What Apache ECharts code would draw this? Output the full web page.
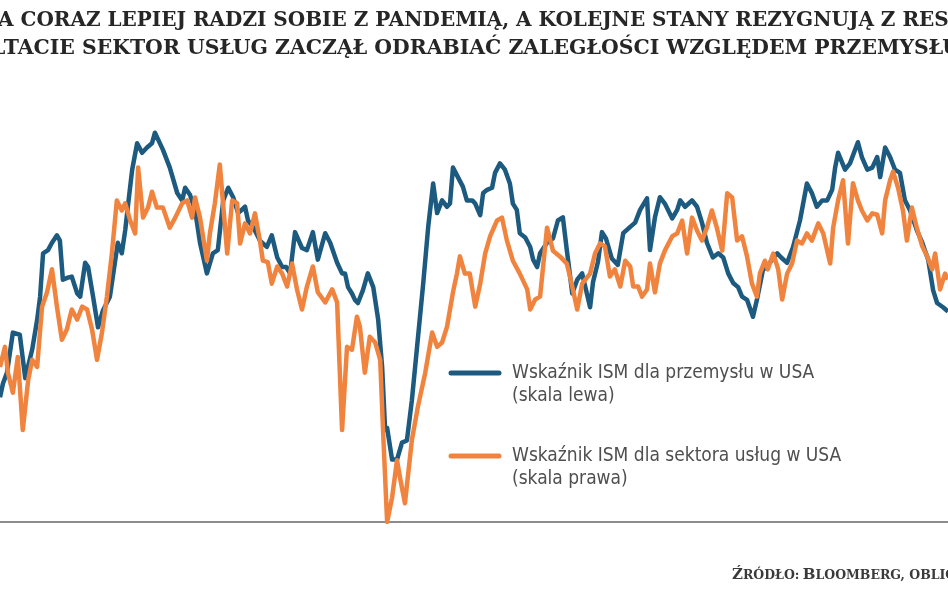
<!DOCTYPE html>
<html>
<head>
<meta charset="utf-8">
<script src="https://cdn.jsdelivr.net/npm/echarts@6/dist/echarts.min.js"></script>
<style>
html,body{margin:0;padding:0;background:#fff;}
#chart{width:948px;height:593px;}
</style>
</head>
<body>
<div id="chart"></div>
<script>
// ISM manufacturing (left scale) – decimal year / value
var manufYears = [2001.00,2001.06,2001.14,2001.26,2001.40,2001.51,2001.65,2001.75,2001.81,2001.87,2001.97,2002.05,2002.15,2002.21,2002.27,2002.37,2002.45,2002.56,2002.62,2002.72,2002.78,2002.88,2002.98,2003.08,2003.22,2003.32,2003.38,2003.46,2003.53,2003.59,2003.67,2003.77,2003.87,2003.97,2004.07,2004.13,2004.29,2004.43,2004.58,2004.68,2004.74,2004.84,2004.94,2005.04,2005.18,2005.30,2005.40,2005.51,2005.61,2005.71,2005.81,2005.95,2006.01,2006.11,2006.25,2006.39,2006.49,2006.60,2006.70,2006.78,2006.86,2006.96,2007.10,2007.20,2007.32,2007.42,2007.57,2007.67,2007.81,2007.91,2007.97,2008.03,2008.11,2008.17,2008.23,2008.33,2008.43,2008.54,2008.64,2008.72,2008.78,2008.82,2008.92,2009.02,2009.12,2009.22,2009.32,2009.42,2009.55,2009.65,2009.75,2009.83,2009.93,2010.03,2010.09,2010.15,2010.25,2010.35,2010.43,2010.54,2010.60,2010.70,2010.76,2010.84,2010.94,2011.00,2011.10,2011.20,2011.30,2011.36,2011.44,2011.50,2011.61,2011.71,2011.77,2011.85,2011.91,2012.05,2012.17,2012.27,2012.37,2012.45,2012.56,2012.66,2012.76,2012.92,2012.98,2013.08,2013.16,2013.24,2013.36,2013.48,2013.59,2013.73,2013.83,2013.93,2014.07,2014.13,2014.23,2014.33,2014.43,2014.58,2014.68,2014.74,2014.84,2014.98,2015.08,2015.18,2015.28,2015.40,2015.51,2015.61,2015.71,2015.81,2015.91,2015.99,2016.09,2016.21,2016.29,2016.41,2016.55,2016.70,2016.78,2016.90,2017.02,2017.16,2017.30,2017.40,2017.50,2017.61,2017.71,2017.81,2017.87,2017.93,2018.07,2018.17,2018.33,2018.41,2018.52,2018.62,2018.72,2018.78,2018.88,2018.98,2019.08,2019.18,2019.28,2019.38,2019.52,2019.63,2019.75,2019.85,2019.93,2020.05,2020.15];
var manufValues = [38.8,40.1,41.1,44.9,44.7,40.6,43.3,46.1,48.3,52.4,52.7,53.4,54.1,53.6,49.9,50.1,50.2,48.6,48.3,51.5,51.1,48.3,45.4,47.0,48.3,51.5,53.4,52.4,54.6,57.1,60.3,62.8,61.9,62.4,62.8,63.8,62.2,60.5,58.1,57.4,58.6,57.9,56.5,53.4,50.5,52.4,52.7,57.4,58.6,57.7,56.2,56.8,55.5,54.9,53.6,53.0,54.1,52.0,51.1,51.1,50.5,54.4,52.9,52.7,54.4,51.8,54.3,53.4,51.5,50.5,50.5,49.2,48.6,48.0,47.7,48.9,50.5,49.2,46.1,41.6,35.7,35.9,32.9,32.9,34.5,34.7,38.5,43.3,49.6,54.9,59.0,56.2,57.4,56.8,57.1,60.5,59.6,58.7,57.4,57.4,57.1,56.0,58.1,58.4,58.6,60.0,60.9,60.3,59.0,57.1,56.5,54.3,53.9,53.0,51.8,51.1,52.4,53.4,53.8,55.5,55.8,52.7,48.6,49.9,50.5,47.3,49.7,51.6,54.4,53.8,51.9,51.3,54.3,54.9,55.3,56.5,57.6,52.7,55.8,57.7,57.1,55.7,56.5,57.4,56.8,57.4,56.8,55.3,53.4,52.0,52.4,52.0,50.5,49.6,49.2,48.3,48.0,46.4,48.0,50.8,51.5,52.4,52.0,51.5,53.0,55.5,59.0,58.1,56.8,57.4,57.4,58.4,60.5,61.9,60.3,60.9,62.9,61.5,60.3,60.5,61.5,59.6,62.4,61.5,60.3,60.0,57.4,56.5,54.6,53.4,51.8,48.9,47.7,47.3,46.9];

// ISM services (right scale) – decimal year / value
var servYears = [2001.00,2001.10,2001.16,2001.26,2001.36,2001.46,2001.57,2001.65,2001.75,2001.85,2001.95,2002.05,2002.15,2002.25,2002.35,2002.45,2002.56,2002.66,2002.76,2002.86,2002.96,2003.06,2003.16,2003.26,2003.36,2003.46,2003.53,2003.63,2003.73,2003.79,2003.89,2003.99,2004.07,2004.17,2004.29,2004.43,2004.54,2004.68,2004.78,2004.88,2004.94,2005.04,2005.18,2005.24,2005.34,2005.44,2005.59,2005.69,2005.79,2005.85,2005.95,2006.05,2006.15,2006.25,2006.31,2006.41,2006.49,2006.60,2006.70,2006.80,2006.90,2007.00,2007.10,2007.20,2007.32,2007.42,2007.57,2007.71,2007.81,2007.91,2008.01,2008.11,2008.21,2008.27,2008.37,2008.47,2008.58,2008.68,2008.74,2008.82,2008.92,2009.02,2009.08,2009.18,2009.32,2009.44,2009.59,2009.73,2009.83,2009.93,2010.03,2010.15,2010.23,2010.29,2010.39,2010.49,2010.60,2010.70,2010.80,2010.90,2011.04,2011.14,2011.24,2011.36,2011.50,2011.65,2011.71,2011.81,2011.91,2012.05,2012.17,2012.31,2012.45,2012.56,2012.66,2012.76,2012.92,2013.02,2013.12,2013.22,2013.32,2013.42,2013.53,2013.63,2013.73,2013.79,2013.89,2013.97,2014.07,2014.13,2014.23,2014.33,2014.43,2014.58,2014.68,2014.78,2014.88,2014.98,2015.08,2015.18,2015.28,2015.38,2015.48,2015.59,2015.69,2015.79,2015.89,2015.99,2016.09,2016.19,2016.29,2016.35,2016.45,2016.51,2016.62,2016.72,2016.80,2016.90,2017.00,2017.10,2017.20,2017.30,2017.40,2017.53,2017.63,2017.77,2017.83,2017.93,2018.03,2018.13,2018.23,2018.33,2018.41,2018.52,2018.62,2018.72,2018.82,2018.88,2018.98,2019.04,2019.14,2019.24,2019.32,2019.42,2019.52,2019.63,2019.73,2019.83,2019.89,2019.99,2020.09,2020.15];
var servValues = [47.8,49.2,47.4,46.0,48.5,43.4,46.9,48.3,47.8,52.0,53.0,54.6,52.0,49.7,50.4,51.8,51.1,52.0,51.8,50.4,48.3,50.2,52.7,55.7,59.4,58.7,59.2,58.0,57.1,61.7,58.2,58.9,60.0,58.9,58.9,57.5,58.2,59.2,59.4,58.2,59.6,58.2,55.2,57.1,59.2,61.9,55.7,59.4,59.2,56.4,57.8,57.1,58.5,56.6,55.2,55.1,53.6,54.8,54.3,53.4,55.0,53.2,51.8,53.4,54.8,53.0,52.3,53.2,52.3,43.4,49.2,49.0,51.3,50.6,47.4,49.9,49.5,48.3,43.2,37.0,38.7,41.3,40.1,38.3,42.7,45.0,47.4,50.2,49.2,49.5,50.6,53.0,54.3,55.5,54.3,54.3,52.0,53.6,55.7,56.9,58.0,58.2,56.6,55.2,54.3,53.2,51.8,52.5,52.7,57.5,55.9,55.5,55.0,53.4,51.8,53.6,54.3,55.7,56.4,56.2,54.1,54.6,53.4,55.2,54.8,53.4,53.4,52.7,53.2,55.0,53.0,55.0,55.9,56.9,57.1,58.0,55.7,58.2,57.3,56.6,57.5,58.7,57.5,55.9,59.9,59.6,56.6,56.9,55.5,53.6,52.7,54.3,55.2,54.6,55.7,54.6,52.5,54.3,55.0,56.6,56.4,57.1,56.6,57.8,57.1,55.0,57.5,59.4,60.8,56.4,60.6,59.4,58.7,58.0,58.5,58.4,57.1,59.4,60.8,61.4,60.3,58.7,56.6,58.9,57.5,56.2,55.5,54.6,55.7,53.2,54.3,53.9];

var titleLine1 = 'A CORAZ LEPIEJ RADZI SOBIE Z PANDEMIĄ, A KOLEJNE STANY REZYGNUJĄ Z RESTRYKCJI.';
var titleLine2 = 'LTACIE SEKTOR USŁUG ZACZĄŁ ODRABIAĆ ZALEGŁOŚCI WZGLĘDEM PRZEMYSŁU';
var seriesNames = ['Wskaźnik ISM dla przemysłu w USA', 'Wskaźnik ISM dla sektora usług w USA'];
var scaleNotes = ['(skala lewa)', '(skala prawa)'];

function zip(xs, ys) { return xs.map(function (x, i) { return [x, ys[i]]; }); }

var BLUE = '#1c5a7f', ORANGE = '#f0843e';
var chart = echarts.init(document.getElementById('chart'), null, {renderer: 'canvas'});
var legendFont = '"DejaVu Sans Condensed", "Liberation Sans Narrow", "DejaVu Sans", sans-serif';
var option = {
  backgroundColor: '#ffffff',
  animation: false,
  grid: {left: 0, right: 0, top: 120, bottom: 71, containLabel: false},
  xAxis: {
    type: 'value', min: 2001, max: 2020.15,
    axisLine: {show: true, lineStyle: {color: '#8c8c8c', width: 2}},
    axisTick: {show: false}, axisLabel: {show: false}, splitLine: {show: false}
  },
  yAxis: [
    {type: 'value', min: 27, max: 65, show: false, splitLine: {show: false}},
    {type: 'value', min: 37, max: 65, show: false, splitLine: {show: false}}
  ],
  series: [
    {name: seriesNames[0], type: 'line', yAxisIndex: 0, data: zip(manufYears, manufValues),
     showSymbol: false, symbol: 'none', lineStyle: {color: BLUE, width: 4.5, join: 'round'}, itemStyle: {color: BLUE}, z: 2},
    {name: seriesNames[1], type: 'line', yAxisIndex: 1, data: zip(servYears, servValues),
     showSymbol: false, symbol: 'none', lineStyle: {color: ORANGE, width: 4.5, join: 'round'}, itemStyle: {color: ORANGE}, z: 3}
  ],
  graphic: [
    {type: 'text', left: -2, top: 11, style: {text: titleLine1, font: 'bold 20px "DejaVu Serif", serif', fill: '#262626'}},
    {type: 'text', left: -9, top: 39, style: {text: titleLine2, font: 'bold 20.4px "DejaVu Serif", serif', fill: '#262626'}},
    {type: 'line', shape: {x1: 451, y1: 373, x2: 499, y2: 373}, style: {stroke: BLUE, lineWidth: 5, lineCap: 'round'}},
    {type: 'text', x: 512, y: 373, style: {text: seriesNames[0], font: '19px ' + legendFont, fill: '#4f4f4f', verticalAlign: 'middle'}},
    {type: 'text', x: 512, y: 396, style: {text: scaleNotes[0], font: '19px ' + legendFont, fill: '#4f4f4f', verticalAlign: 'middle'}},
    {type: 'line', shape: {x1: 451, y1: 456, x2: 499, y2: 456}, style: {stroke: ORANGE, lineWidth: 5, lineCap: 'round'}},
    {type: 'text', x: 512, y: 456, style: {text: seriesNames[1], font: '19px ' + legendFont, fill: '#4f4f4f', verticalAlign: 'middle'}},
    {type: 'text', x: 512, y: 479, style: {text: scaleNotes[1], font: '19px ' + legendFont, fill: '#4f4f4f', verticalAlign: 'middle'}},
    {type: 'text', x: 732, y: 575, style: {
      text: '{b|Ź}{s|RÓDŁO:} {b|B}{s|LOOMBERG, OBLICZENIA} {b|P}{s|ARKIETU}',
      verticalAlign: 'middle',
      rich: {
        b: {font: 'bold 15px "DejaVu Serif", serif', fill: '#3a3a3a', verticalAlign: 'bottom'},
        s: {font: 'bold 12.5px "DejaVu Serif", serif', fill: '#3a3a3a', verticalAlign: 'bottom'}
      }
    }}
  ]
};
chart.setOption(option);
</script>
</body>
</html>
